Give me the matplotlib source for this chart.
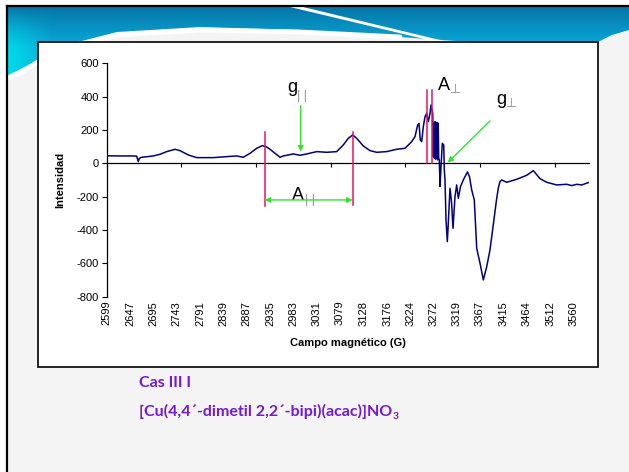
import numpy as np
import matplotlib
matplotlib.use('Agg')
import matplotlib.pyplot as plt
from matplotlib.patches import Rectangle, Polygon

plt.rcParams['font.family'] = ['Liberation Sans', 'DejaVu Sans']

# ---------------- data ----------------
field = [2599.0, 2626.4, 2653.7, 2660.7, 2664.0, 2666.1, 2671.0, 2694.9, 2708.7, 2722.5,
         2739.6, 2749.7, 2766.9, 2784.2, 2818.4, 2845.9, 2866.5, 2880.1, 2894.0, 2907.7,
         2919.2, 2928.3, 2935.1, 2955.7, 2962.4, 2983.0, 2996.8, 3010.6, 3031.2, 3051.8,
         3072.3, 3085.9, 3096.2, 3105.3, 3113.5, 3127.1, 3140.9, 3154.7, 3175.2, 3195.8,
         3212.9, 3226.7, 3233.5, 3239.0, 3241.7, 3244.4, 3247.3, 3250.6, 3254.1, 3257.6,
         3260.9, 3264.4, 3266.4, 3269.9, 3271.2, 3272.4, 3273.5, 3274.6, 3275.7, 3276.8,
         3277.9, 3279.0, 3280.1, 3281.2, 3282.3, 3283.5, 3285.0, 3287.0, 3289.7, 3292.6,
         3293.8, 3295.2, 3297.3, 3300.0, 3302.0,
         3305.5, 3308.6, 3311.7, 3315.8, 3319.3, 3322.6, 3327.1, 3332.9, 3341.5, 3345.6,
         3350.2, 3355.5, 3360.5, 3367.3, 3374.1, 3381.1, 3387.8, 3395.0, 3401.2, 3404.9,
         3408.4, 3411.9, 3422.2, 3442.8, 3463.4, 3477.0, 3490.7, 3504.5, 3525.1, 3545.7,
         3556.0, 3566.3, 3576.6, 3590.1]
intensity = [45, 44, 44, 43, 10, 30, 36, 44, 54, 70,
             84, 76, 50, 34, 34, 40, 44, 36, 60, 90,
             106, 98, 84, 36, 44, 56, 48, 56, 70, 66,
             70, 110, 150, 170, 150, 104, 76, 66, 70, 84,
             90, 130, 160, 230, 240, 140, 130, 220, 280, 300,
             250, 300, 350, 300, 40, 240, 30, 250, 25, 235,
             30, 245, 20, 240, 30, 20, -140, -20, 120, 110,
             -40, -100, -340, -470, -360,
             -150, -230, -390, -200, -130, -210, -140, -100, -52, -80,
             -160, -220, -510, -600, -700, -620, -520, -360, -220, -150,
             -110, -100, -114, -96, -72, -44, -92, -114, -130, -126,
             -134, -126, -130, -116]
assert len(field) == len(intensity)

x_tick_labels = ['2599', '2647', '2695', '2743', '2791', '2839', '2887', '2935', '2983',
                 '3031', '3079', '3128', '3176', '3224', '3272', '3319', '3367', '3415',
                 '3464', '3512', '3560']
y_ticks = [-800, -600, -400, -200, 0, 200, 400, 600]

# annotation marker fields (pink lines)
a_par_fields = [2923.8, 3106.5]
a_perp_fields = [3257.6, 3269.1]

navy = '#000080'
pink = '#F0106A'
green = '#2EE62E'
gray = '#8C8C8C'
purple = '#7418D8'

# ---------------- figure & slide ----------------
fig = plt.figure(figsize=(6.29, 4.72), dpi=100)
fig.patch.set_facecolor('white')
bg = fig.add_axes([0, 0, 1, 1])
bg.set_xlim(0, 629)
bg.set_ylim(472, 0)
bg.axis('off')

bg.add_patch(Rectangle((7, 6), 622, 466, fc='#F4F4F4', ec='none', zorder=0))

ny, nx = 80, 629
yy, xx = np.mgrid[0:ny, 0:nx]
c_top = np.array([0x06, 0x74, 0xA6]) / 255
c_bot = np.array([0x08, 0xAC, 0xDC]) / 255
c_cyan = np.array([0x00, 0xDC, 0xE8]) / 255
t = np.clip((yy - 6) / 40, 0, 1)[..., None]
img = c_top * (1 - t) + c_bot * t
w = (np.clip(1 - (xx - 7) / 45, 0, 1) * np.clip((yy - 8) / 45, 0, 1))[..., None]
img = img * (1 - w) + c_cyan * w
im = bg.imshow(img, extent=(0, 629, 80, 0), zorder=1, interpolation='bilinear', aspect='auto')
band = Polygon([(7, 6), (629, 6), (629, 30), (612, 35), (598, 42), (470, 42), (300, 30),
                (200, 27), (117, 32), (70, 44), (38, 60), (7, 76)], closed=True,
               fc='none', ec='none', transform=bg.transData)
bg.add_patch(band)
im.set_clip_path(band)
bg.set_xlim(0, 629)
bg.set_ylim(472, 0)

bg.plot([7, 20, 38, 70, 117, 200, 300, 400], [78, 73, 62, 47, 35, 30, 32, 37],
        color='white', lw=3.5, solid_capstyle='round', zorder=2)
bg.add_patch(Polygon([(290, 7), (303, 7), (448, 42), (437, 42)], closed=True,
                     fc='white', ec='none', zorder=2))

bg.add_patch(Rectangle((38, 42), 560, 325, fc='white', ec='black', lw=1.2, zorder=3))
bg.plot([7, 629], [6, 6], color='black', lw=1.6, zorder=4)
bg.plot([7, 7], [6, 472], color='black', lw=1.6, zorder=4)

# ---------------- chart ----------------
ax = fig.add_axes([106.7 / 629, 1 - 296.6 / 472, (589.3 - 106.7) / 629, (296.6 - 63.3) / 472])
ax.patch.set_alpha(0)
ax.set_zorder(5)
ax.set_xlim(2599, 3592.2)
ax.set_ylim(-800, 600)

ax.plot(field, intensity, color=navy, lw=1.1, zorder=3)

for s in ['top', 'right']:
    ax.spines[s].set_visible(False)
ax.spines['bottom'].set_position(('data', 0))
ax.spines['bottom'].set_linewidth(0.9)
ax.spines['left'].set_linewidth(0.9)

ax.set_yticks(y_ticks)
ax.set_yticklabels([str(v) for v in y_ticks])
ax.tick_params(axis='y', direction='out', length=3.5, width=0.8, labelsize=8, pad=2)

tick_step = 153.6
ax.set_xticks([2599 + k * tick_step for k in range(7)])
ax.tick_params(axis='x', direction='out', length=3, width=0.8, labelbottom=False)

sec = ax.secondary_xaxis(0)
sec.set_xticks([float(v) for v in x_tick_labels])
sec.set_xticklabels(x_tick_labels, rotation=90, fontsize=8)
sec.tick_params(length=0, pad=3)
sec.spines['bottom'].set_visible(False)

ax.set_ylabel('Intensidad', fontsize=8, fontweight='bold')
ax.yaxis.set_label_coords(-0.085, 0.5)
ax.text(0.5, -0.199, 'Campo magnético (G)', transform=ax.transAxes, fontsize=8,
        fontweight='bold', ha='center', va='center')

# pink lines
ax.plot([a_par_fields[0]] * 2, [190, -254], color=pink, lw=1.1, zorder=4)
ax.plot([a_par_fields[1]] * 2, [188, -250], color=pink, lw=1.1, zorder=4)
for f in a_perp_fields:
    ax.plot([f, f], [0, 440], color=pink, lw=1.1, zorder=4)

# green arrows
ap = dict(arrowstyle='-|>', color=green, lw=1, mutation_scale=8, shrinkA=0, shrinkB=0)
ax.annotate('', xy=(2998.3, 70), xytext=(2998.3, 346), arrowprops=ap, zorder=5)
ax.annotate('', xy=(3300.8, 4), xytext=(3387.8, 254), arrowprops=ap, zorder=5)
ap2 = dict(arrowstyle='<|-|>', color=green, lw=1, mutation_scale=8, shrinkA=0, shrinkB=0)
ax.annotate('', xy=(3105.3, -220), xytext=(a_par_fields[0], -220), arrowprops=ap2, zorder=5)

# labels
ax.text(2970, 428, 'g', fontsize=13, va='baseline', ha='left')
ax.text(2990.6, 385, '| |', fontsize=9, va='baseline', ha='left', color=gray)
ax.text(2980.4, -220, 'A', fontsize=13, va='baseline', ha='left')
ax.text(3007, -238, '| |', fontsize=9, va='baseline', ha='left', color=gray)
ax.text(3280.8, 440, 'A', fontsize=13, va='baseline', ha='left')
ax.text(3305.5, 422, '⊥', fontsize=9, va='baseline', ha='left', color=gray)
ax.text(3400, 356, 'g', fontsize=13, va='baseline', ha='left')
ax.text(3421, 338, '⊥', fontsize=9, va='baseline', ha='left', color=gray)

# ---------------- slide text ----------------
bg.text(139, 387, 'Cas III I', color=purple, fontsize=11.5, fontweight='bold',
        family=['Lato', 'DejaVu Sans'], va='baseline', ha='left', zorder=6)
formula = bg.text(139, 416, '[Cu(4,4´-dimetil 2,2´-bipi)(acac)]NO', color=purple, fontsize=11.5,
                  fontweight='bold', family=['Lato', 'DejaVu Sans'], va='baseline', ha='left',
                  zorder=6)
fig.canvas.draw()
bb = formula.get_window_extent()
x_end = bg.transData.inverted().transform((bb.x1, bb.y0))[0]
bg.text(x_end + 0.5, 419, '3', color=purple, fontsize=7.5, fontweight='bold',
        family=['Lato', 'DejaVu Sans'], va='baseline', ha='left', zorder=6)

fig.savefig('out.png', dpi=100)
